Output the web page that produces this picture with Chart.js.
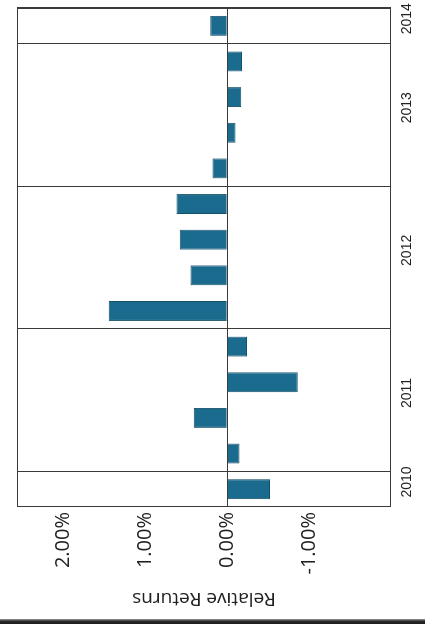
<!DOCTYPE html>
<html>
<head>
<meta charset="utf-8">
<script src="https://cdn.jsdelivr.net/npm/chart.js@4.4.1/dist/chart.umd.min.js"></script>
<style>
  html, body { margin: 0; padding: 0; background: #fff; }
  body { width: 425px; height: 624px; overflow: hidden; position: relative; }
  /* the chart is laid out landscape and turned a quarter turn counter-clockwise */
  #wrap {
    position: absolute; left: 0; top: 0; width: 624px; height: 425px;
    transform-origin: 0 0; transform: translateY(624px) rotate(-90deg);
  }
  #edge {
    position: absolute; left: 0; bottom: 0; width: 425px; height: 5px;
    background: linear-gradient(#9a9a9a, #2a2a2a 45%, #1c1c1c);
  }
</style>
</head>
<body>
<div id="wrap"><canvas id="chart" width="624" height="425"></canvas></div>
<div id="edge"></div>
<script>
// Quarterly relative returns (%)
const quarters = [
  'Q4 2010',
  'Q1 2011', 'Q2 2011', 'Q3 2011', 'Q4 2011',
  'Q1 2012', 'Q2 2012', 'Q3 2012', 'Q4 2012',
  'Q1 2013', 'Q2 2013', 'Q3 2013', 'Q4 2013',
  'Q1 2014'
];
const relativeReturns = [
  -0.52,
  -0.15, 0.41, -0.86, -0.24,
  1.45, 0.45, 0.58, 0.62,
  0.18, -0.10, -0.17, -0.18,
  0.21
];
const years = ['2010', '2011', '2012', '2013', '2014'];
const quartersPerYear = [1, 4, 4, 4, 1];
const valueTicks = [2, 1, 0, -1];

// year group boundaries and label positions along the quarter axis
const LABEL_SHIFT = 0.2;
const yearBounds = [-0.5];
const yearCentres = [];
let start = 0;
quartersPerYear.forEach(n => {
  yearCentres.push(start + (n - 1) / 2 + LABEL_SHIFT);
  start += n;
  yearBounds.push(start - 0.5);
});

const LINE = '#3a3a3a';
const TEXT = '#222';

const plotFrame = {
  id: 'plotFrame',
  afterDraw(chart) {
    const { ctx, chartArea: a } = chart;
    ctx.save();
    ctx.strokeStyle = LINE;
    ctx.lineWidth = 1;
    ctx.strokeRect(Math.round(a.left) + 0.5, Math.round(a.top) + 0.5,
                   Math.round(a.right - a.left) - 1, Math.round(a.bottom - a.top) - 1);
    ctx.restore();
  }
};

new Chart(document.getElementById('chart'), {
  type: 'bar',
  data: {
    labels: quarters,
    datasets: [{
      data: relativeReturns,
      backgroundColor: '#1b6b8f',
      borderColor: '#17506a',
      borderWidth: 1,
      barPercentage: 0.56,
      categoryPercentage: 1.0
    }]
  },
  options: {
    responsive: false,
    animation: false,
    devicePixelRatio: 1,
    layout: { padding: { top: 13, right: 5, left: 0, bottom: 0 } },
    plugins: { legend: { display: false }, tooltip: { enabled: false } },
    scales: {
      x: { type: 'category', display: false, offset: true },
      yearAxis: {
        axis: 'x',
        type: 'linear',
        position: 'bottom',
        offset: false,
        min: -0.5,
        max: quarters.length - 0.5,
        afterBuildTicks: s => {
          s.ticks = yearBounds.concat(yearCentres).sort((a, b) => a - b).map(v => ({ value: v }));
        },
        afterFit: s => { s.height = 34; },
        border: { display: false },
        grid: {
          offset: false,
          drawTicks: false,
          lineWidth: 1,
          color: ctx => (ctx.tick && yearBounds.includes(ctx.tick.value)) ? LINE : 'rgba(0,0,0,0)'
        },
        ticks: {
          autoSkip: false,
          maxRotation: 0,
          minRotation: 0,
          padding: 8,
          color: TEXT,
          font: { family: 'Liberation Sans', size: 14 },
          callback: v => {
            const k = yearCentres.indexOf(v);
            return k >= 0 ? years[k] : '';
          }
        }
      },
      y: {
        min: -2.0,
        max: 2.57,
        afterBuildTicks: s => { s.ticks = valueTicks.map(v => ({ value: v })); },
        afterFit: s => { s.width = 117; },
        border: { display: false },
        grid: {
          drawTicks: false,
          color: ctx => (ctx.tick && ctx.tick.value === 0) ? LINE : 'rgba(0,0,0,0)'
        },
        ticks: {
          padding: 5,
          color: TEXT,
          font: { family: 'Open Sans', size: 20 },
          callback: v => v.toFixed(2) + '%'
        },
        title: {
          display: true,
          text: 'Relative Returns',
          color: TEXT,
          font: { family: 'Open Sans', size: 19 },
          padding: { top: 14, bottom: 0 }
        }
      }
    }
  },
  plugins: [plotFrame]
});
</script>
</body>
</html>
